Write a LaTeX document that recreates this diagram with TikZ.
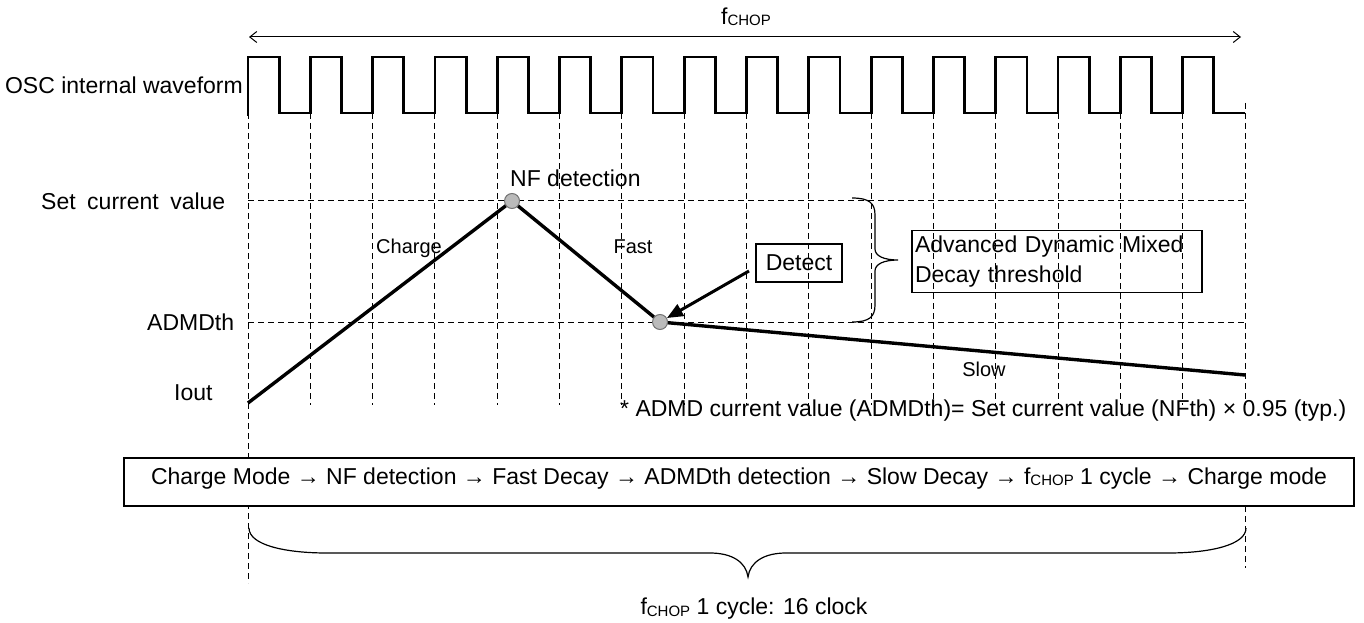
\documentclass[tikz,border=0pt]{standalone}
\usepackage{fontspec}
\setmainfont{Liberation Sans}
\usetikzlibrary{arrows.meta}
\newcommand\fchopsym{f\raisebox{-1.5pt}{\fontsize{15}{15}\selectfont CHOP}}
\begin{document}
\begin{tikzpicture}[x=1pt,y=-1pt,
  lbl/.style={font=\fontsize{23}{28}\selectfont, inner sep=0pt},
  smalllbl/.style={font=\fontsize{20}{24}\selectfont, inner sep=0pt},
  gridline/.style={line width=0.9pt, dash pattern=on 6pt off 4pt},
  wave/.style={line width=2.8pt, line join=miter},
  curr/.style={line width=3.4pt, line join=round},
  dotnode/.style={circle, fill=black!27, draw=black!55, line width=1pt, minimum size=15pt, inner sep=0pt},
  frame/.style={draw, line width=1.3pt}]
\useasboundingbox (0,0) rectangle (1364,623);
\pgfmathsetmacro\P{(1245-248)/16}
% fCHOP span arrow
\node[lbl] (fchop) at (746,17) {\fchopsym};
\coordinate (arL) at (249,37);
\coordinate (arR) at (1241,37);
\draw[line width=1pt,{Straight Barb[length=7pt,width=11pt]}-{Straight Barb[length=7pt,width=11pt]}] (arL) -- (arR);
% oscillator waveform
\node[lbl, anchor=east] (osc) at (243,85) {OSC internal waveform};
\draw[wave] (248,116) \foreach \k in {0,...,15}{ -- ({248+\k*\P},57) -- ({248+(\k+0.5)*\P},57) -- ({248+(\k+0.5)*\P},113) -- ({248+(\k+1)*\P},113)};
% grid
\foreach \k in {1,...,15} \draw[gridline] ({248+\k*\P},113) -- ({248+\k*\P},405);
\draw[gridline] (248,113) -- (248,583);
\draw[gridline] (1245,103) -- (1245,405);
\draw[gridline] (1245,506) -- (1245,568);
\draw[gridline] (248,200) -- (1245,200);
\draw[gridline] (248,322) -- (1245,322);
% level labels
\node[lbl, anchor=west] (setv) at (41,201) {Set\hspace{0.5em}current\hspace{0.5em}value};
\node[lbl, anchor=west] (admth) at (147,322) {ADMDth};
\node[lbl, anchor=west] (iout) at (174,393) {Iout};
% current waveform
\coordinate (i0) at (248,403);
\coordinate (nfp) at (512,201);
\coordinate (adp) at (660,322);
\coordinate (i1) at (1245,375);
\draw[curr] (i0) -- (nfp) -- (adp) -- (i1);
\node[dotnode] (nf) at (nfp) {};
\node[dotnode] (ad) at (adp) {};
\node[lbl, anchor=west] (nflbl) at (510,178) {NF detection};
\node[smalllbl] (chg) at (409,248) {Charge};
\node[smalllbl] (fast) at (633,247) {Fast};
\node[smalllbl] (slow) at (984,369) {Slow};
% detect
\node[frame, lbl, minimum width=86pt, minimum height=38pt] (det) at (799,263) {Detect};
\coordinate (detS) at (749,271);
\draw[line width=3pt, -{Triangle[length=16pt,width=13pt]}] (detS) -- (ad);
% right brace
\draw[line width=1.2pt] (852,198) .. controls (869,198) and (875,203) .. (875,215) -- (875,249)
  .. controls (875,256) and (884,260) .. (898,260) .. controls (884,260) and (875,264) .. (875,271)
  -- (875,305) .. controls (875,317) and (869,322) .. (852,322);
\node[draw, line width=1.2pt, minimum width=290pt, minimum height=62pt, text width=284pt, align=left, inner sep=3pt, font=\fontsize{23}{30}\selectfont] (adbox) at (1057,261.5) {Advanced Dynamic Mixed\\Decay threshold};
% note
\node[lbl, anchor=west] (note) at (620,411) {* ADMD current value (ADMDth)= Set current value (NFth) × 0.95 (typ.)};
% flow box
\node[frame, fill=white, minimum width=1230pt, minimum height=48pt, text height=20pt, text depth=16pt, inner sep=0pt, font=\fontsize{23}{28}\selectfont] (flow) at (739,482) {Charge Mode → NF detection → Fast Decay → ADMDth detection → Slow Decay → \fchopsym{} 1 cycle → Charge mode};
% bottom brace
\draw[line width=1.2pt] (249,528) .. controls (249,545) and (285,553) .. (327,553) -- (710,553)
  .. controls (732,553) and (746,562) .. (748,577) .. controls (750,562) and (764,553) .. (786,553)
  -- (1168,553) .. controls (1210,553) and (1246,545) .. (1246,528);
\node[lbl] (cyc) at (754,609) {\fchopsym{} 1 cycle: 16 clock};
\end{tikzpicture}
\end{document}
